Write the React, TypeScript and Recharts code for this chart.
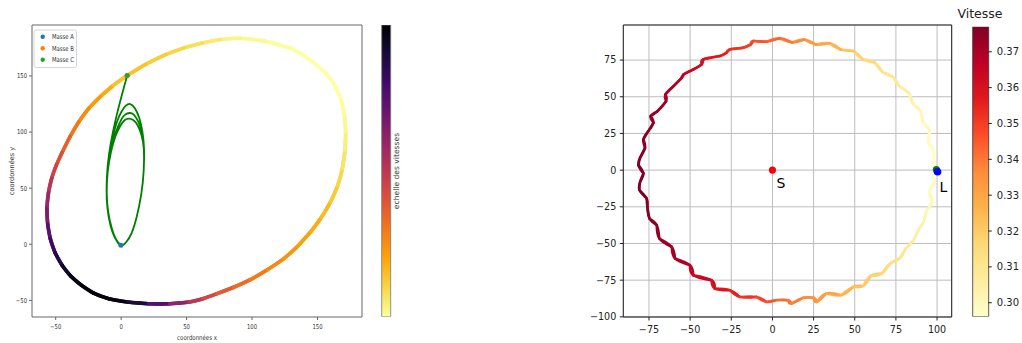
import React from 'react';
import {
  ScatterChart,
  Scatter,
  XAxis,
  YAxis,
  CartesianGrid,
  ReferenceLine,
  ComposedChart,
  Bar,
} from 'recharts';

const FONT = "'DejaVu Sans', sans-serif";
type P3 = [number, number, number];

// ---------------- colormaps ----------------
const INFERNO = ['#000004', '#160b39', '#420a68', '#6a176e', '#932667', '#bc3754', '#dd513a', '#f37819', '#fca50a', '#f6d746', '#fcffa4'];
const YLORRD = ['#ffffcc', '#ffeda0', '#fed976', '#feb24c', '#fd8d3c', '#fc4e2a', '#e31a1c', '#bd0026', '#800026'];

function hexRgb(h: string) {
  return [parseInt(h.slice(1, 3), 16), parseInt(h.slice(3, 5), 16), parseInt(h.slice(5, 7), 16)];
}
function cmap(stops: string[], t: number) {
  const c = Math.max(0, Math.min(1, t)) * (stops.length - 1);
  const i = Math.min(Math.floor(c), stops.length - 2);
  const f = c - i;
  const a = hexRgb(stops[i]);
  const b = hexRgb(stops[i + 1]);
  return `rgb(${Math.round(a[0] + (b[0] - a[0]) * f)},${Math.round(a[1] + (b[1] - a[1]) * f)},${Math.round(a[2] + (b[2] - a[2]) * f)})`;
}

// ---------------- left panel data ----------------
const leftXTicks = [-50, 0, 50, 100, 150];
const leftYTicks = [-50, 0, 50, 100, 150];
const leftXDomain = [-68.1, 184];
const leftYDomain = [-64.8, 195.4];

// Masse B trajectory: x, y, vitesse (relative, 0..1)
const masseBOrbit: P3[] = [
  [4.6, 150.3, 0.15], [-6, 141.5, 0.17], [-15.9, 131.6, 0.2], [-24.8, 121, 0.24], [-32.4, 109, 0.28],
  [-39, 96, 0.33], [-45, 82, 0.39], [-49.5, 70.5, 0.43], [-53, 59, 0.47], [-55.5, 46, 0.55],
  [-56.7, 32, 0.62], [-56.1, 18, 0.7], [-54.1, 4.9, 0.78], [-50.5, -7.4, 0.84], [-45.1, -18.7, 0.9],
  [-38.7, -28.1, 0.95], [-30.9, -36, 0.98], [-21, -43.5, 1], [-9.4, -48.5, 1], [5, -51.5, 0.94],
  [21, -53, 0.83], [37, -53, 0.68], [51.8, -51.5, 0.54], [62.5, -48.5, 0.46], [73.3, -44, 0.4],
  [86, -38.3, 0.35], [98.8, -31.5, 0.31], [112, -22.5, 0.28], [124.3, -12.8, 0.25], [135, -1.5, 0.22],
  [144.7, 11, 0.2], [153, 24, 0.17], [160, 37.8, 0.14], [165.5, 52.5, 0.11], [169, 67.6, 0.08],
  [171, 84, 0.05], [171.5, 100.3, 0.03], [170.5, 116, 0.01], [167.7, 130, 0], [162.5, 143, 0],
  [155, 153.9, 0], [143, 165.5, 0], [129.4, 174.7, 0], [110.5, 180.8, 0.01], [91, 183.6, 0.02],
  [76, 182.5, 0.04], [62, 179.3, 0.07], [48, 175, 0.09], [34, 169, 0.11], [19, 160.5, 0.13],
];
const masseBVitesseRange = [0, 1];

// Masse C trajectory
const masseCOrbit: [number, number][] = [
  [4.6, 150.3], [2.6, 142], [0.3, 132], [-2.8, 118], [-6.3, 100], [-9.3, 80], [-10.9, 60], [-11, 42],
  [-9.6, 26], [-6.8, 12], [-3.3, 3], [-0.2, -0.9],
  [3.8, 1.8], [8, 10], [12, 25], [15.4, 45], [17.2, 65], [17.5, 85], [16.3, 100], [14, 112], [10.6, 121],
  [7, 125], [3.6, 123.5], [0.4, 118.5], [-3.2, 109], [-6.6, 95], [-9.4, 78], [-10.9, 58], [-11, 40],
  [-9.6, 25], [-6.8, 11.5], [-3.3, 2.8], [-0.2, -0.9],
  [3.8, 1.8], [8, 10], [12, 25], [15.4, 45], [17.2, 65], [17.4, 85], [16, 99], [13.2, 109], [9.6, 115.5],
  [6.5, 117], [3, 115.5], [-0.4, 110], [-4, 100], [-7.4, 86], [-9.9, 69], [-11, 50], [-10.4, 33],
  [-8.2, 18], [-4.8, 6.5], [-0.2, -0.9],
  [3.8, 1.8], [8, 10], [12, 25], [15.4, 45], [17.2, 65], [17.3, 85], [15.6, 97], [12.6, 106], [9.2, 110.7],
  [6, 112], [2.6, 110.5], [-0.9, 105], [-4.4, 96], [-7.8, 82], [-10.3, 64], [-11, 46], [-9.9, 29],
  [-7.2, 14.5], [-3.8, 4], [-0.2, -0.9],
];

const masseAPos = [{ x: -0.2, y: -0.9 }];
const masseBPos = [{ x: 4.6, y: 150.3 }];
const masseCPos = [{ x: 4.6, y: 150.3 }];
const legendLabels = ['Masse A', 'Masse B', 'Masse C'];
const legendColors = ['#1f77b4', '#ff7f0e', '#2ca02c'];

// ---------------- right panel data ----------------
const rightXTicks = [-75, -50, -25, 0, 25, 50, 75, 100];
const rightYTicks = [-100, -75, -50, -25, 0, 25, 50, 75];
const rightXDomain = [-90.6, 108.9];
const rightYDomain = [-100.1, 98.9];

// Lune trajectory: x, y, vitesse
const luneOrbit: P3[] = [
  [99.5, -1, 0.2961], [97.6, 4.5, 0.2965], [98, 13.6, 0.2972], [94.8, 18.7, 0.298], [95.5, 27.3, 0.299],
  [91.4, 32.6, 0.3002], [89.9, 40.2, 0.3015], [85, 45.9, 0.3032], [82.8, 52.7, 0.305], [77.1, 57.2, 0.307],
  [73, 63.6, 0.3092], [66.7, 67.1, 0.3115], [62, 73.4, 0.314], [54.9, 75.5, 0.317], [49.3, 81.1, 0.32],
  [41.6, 82.1, 0.324], [34.7, 86.4, 0.328], [26.3, 85.6, 0.332], [19.3, 89, 0.3355], [12, 87, 0.339],
  [4.3, 89.8, 0.342], [-3.6, 87.5, 0.345], [-11.7, 88, 0.3475], [-13.1, 85.7, 0.3485], [-17.8, 83.4, 0.3505],
  [-25.9, 82.3, 0.3535], [-27.9, 80, 0.3545], [-32, 77.7, 0.3565], [-42, 75.5, 0.36], [-43, 72, 0.361],
  [-48, 68.6, 0.363], [-54, 65.2, 0.3655], [-55, 63, 0.366], [-60, 57.3, 0.368], [-65, 51.6, 0.37],
  [-64.6, 47, 0.3705], [-70, 40, 0.3725], [-74, 36.8, 0.3735], [-72.3, 32.3, 0.3738], [-75.4, 26.6, 0.3745],
  [-78.4, 21, 0.3752], [-77.4, 15.2, 0.3756], [-80.4, 8.4, 0.3762], [-81.4, 3.4, 0.3766], [-78.4, -2.3, 0.3768],
  [-80.4, -8, 0.377], [-80.8, -13.6, 0.3769], [-76.4, -19.3, 0.3766], [-76, -25, 0.376], [-74.7, -33, 0.3752],
  [-70.3, -37.5, 0.3742], [-68.7, -46.6, 0.373], [-61.2, -52.3, 0.371], [-59.2, -60.2, 0.3695], [-50.1, -64.8, 0.3665],
  [-48.1, -71.6, 0.365], [-37, -75, 0.361], [-35, -80.7, 0.3595], [-25.9, -81.8, 0.356], [-19.8, -86.4, 0.3535],
  [-9.7, -86.4, 0.3495], [-3.6, -89.8, 0.347], [2.4, -88.6, 0.344], [9.5, -88.6, 0.341], [11.5, -91, 0.34],
  [18.8, -87, 0.337], [25, -87, 0.3345], [27, -89.8, 0.3335], [32.7, -84, 0.3305], [41.8, -85.2, 0.327],
  [49.2, -79.5, 0.3235], [55, -79, 0.321], [59.7, -72, 0.3185], [66.5, -70.5, 0.316], [70.9, -64.1, 0.3135],
  [77.3, -60.2, 0.311], [80.8, -53.8, 0.309], [85.8, -47.7, 0.3068], [88.4, -41.4, 0.305], [91.9, -35.2, 0.3035],
  [93.4, -28.1, 0.302], [97, -22, 0.3005], [95.1, -14.8, 0.299], [98.4, -8, 0.2975], [97.6, -4, 0.2968],
];
const soleilPos = [{ x: 0, y: 0 }];
const terrePos = [{ x: 99.6, y: 0.3 }];
const lunePos = [{ x: 100.3, y: -1.1 }];
const vitesseTicks = [0.3, 0.31, 0.32, 0.33, 0.34, 0.35, 0.36, 0.37];
const vitesseDomain = [0.2961, 0.377];

// ---------------- helpers ----------------
const fmtMinus = (v: number) => (v < 0 ? '\u2212' + Math.abs(v) : String(v));

// each piece passes through three consecutive points (smooth), coloured by its first interval
function buildPieces(pts: P3[], colorOf: (v: number) => string) {
  const n = pts.length;
  return pts.map((p, i) => {
    const q = pts[(i + 1) % n];
    const r = pts[(i + 2) % n];
    return {
      key: i,
      color: colorOf((p[2] + q[2]) / 2),
      data: [{ x: p[0], y: p[1] }, { x: q[0], y: q[1] }, { x: r[0], y: r[1] }],
    };
  });
}

const piecesB = buildPieces(masseBOrbit, (v) =>
  cmap(INFERNO, 1 - (v - masseBVitesseRange[0]) / (masseBVitesseRange[1] - masseBVitesseRange[0]))
);
const piecesL = buildPieces(luneOrbit, (v) =>
  cmap(YLORRD, (v - vitesseDomain[0]) / (vitesseDomain[1] - vitesseDomain[0]))
);
const masseCData = masseCOrbit.map(([x, y]) => ({ x, y }));

const NoShape = () => <g />;

const LeftXTick = (props: any) => {
  const { x, y, payload } = props;
  return (
    <text transform={`translate(${x},${y + 5}) scale(0.78,1)`} textAnchor="middle" fontSize={6.8} fontFamily={FONT} fill="#333">
      {fmtMinus(payload.value)}
    </text>
  );
};
const LeftYTick = (props: any) => {
  const { x, y, payload } = props;
  return (
    <text transform={`translate(${x},${y + 2.4}) scale(0.78,1)`} textAnchor="end" fontSize={6.8} fontFamily={FONT} fill="#333">
      {fmtMinus(payload.value)}
    </text>
  );
};

const dot = (r: number, fill: string) => (props: any) => <circle cx={props.cx} cy={props.cy} r={r} fill={fill} />;
const labelledDot = (r: number, fill: string, text: string, dx: number, dy: number) => (props: any) => (
  <g>
    <circle cx={props.cx} cy={props.cy} r={r} fill={fill} />
    <text x={props.cx + dx} y={props.cy + dy} textAnchor="middle" fontSize={14} fontFamily={FONT} fill="#000">
      {text}
    </text>
  </g>
);

const colorbarData = [{ name: 'cb', range: [0, 1] }];
const colorbarDataV = [{ name: 'cb', range: [vitesseDomain[0], vitesseDomain[1]] }];

export default function App() {
  return (
    <div style={{ position: 'absolute', left: 0, top: 0, width: 1022, height: 343, background: '#fff', overflow: 'hidden' }}>
      {/* Left trajectory plot */}
      <div style={{ position: 'absolute', left: 0, top: 0 }}>
        <ScatterChart width={370} height={343} margin={{ top: 25, right: 8, bottom: 0, left: 0 }}>
          <XAxis
            type="number"
            dataKey="x"
            domain={leftXDomain}
            ticks={leftXTicks}
            allowDataOverflow
            height={26}
            tickSize={3}
            tickMargin={4}
            stroke="#666"
            tick={(p: any) => <LeftXTick {...p} />}
            label={{
              value: 'coordonnées x',
              position: 'insideBottom',
              offset: 2.5,
              fontSize: 6.8,
              fill: '#333',
              style: { fontSize: 6.8, fontFamily: FONT, fill: '#333', transform: 'scaleX(0.8)', transformBox: 'fill-box', transformOrigin: 'center' },
            }}
          />
          <YAxis
            type="number"
            dataKey="y"
            domain={leftYDomain}
            ticks={leftYTicks}
            allowDataOverflow
            width={32}
            tickSize={3}
            tickMargin={2}
            stroke="#666"
            tick={(p: any) => <LeftYTick {...p} />}
            label={{
              value: 'coordonnées y',
              angle: -90,
              position: 'insideLeft',
              offset: 11.5,
              fontSize: 6.6,
              fill: '#333',
              style: { textAnchor: 'middle', fontSize: 6.6, fontFamily: FONT, fill: '#333' },
            }}
          />
          <ReferenceLine y={leftYDomain[1]} stroke="#666" />
          <ReferenceLine x={leftXDomain[1]} stroke="#666" />
          {piecesB.map((s) => (
            <Scatter
              key={'b' + s.key}
              data={s.data}
              shape={NoShape}
              line={{ stroke: s.color, strokeWidth: 3.6, strokeLinecap: 'round', fill: 'none' }}
              lineJointType="natural"
              isAnimationActive={false}
            />
          ))}
          <Scatter
            data={masseCData}
            shape={NoShape}
            line={{ stroke: '#008000', strokeWidth: 1.8, fill: 'none' }}
            lineJointType="natural"
            isAnimationActive={false}
          />
          <Scatter data={masseBPos} shape={dot(2.5, legendColors[1])} isAnimationActive={false} />
          <Scatter data={masseAPos} shape={dot(2.5, legendColors[0])} isAnimationActive={false} />
          <Scatter data={masseCPos} shape={dot(2.5, legendColors[2])} isAnimationActive={false} />
        </ScatterChart>
      </div>

      {/* Left colorbar */}
      <div style={{ position: 'absolute', left: 370, top: 0 }}>
        <ComposedChart width={40} height={343} data={colorbarData} margin={{ top: 25, right: 19, bottom: 26.3, left: 11.7 }} barCategoryGap={0}>
          <defs>
            <linearGradient id="infernoGrad" x1="0" y1="0" x2="0" y2="1">
              {INFERNO.map((c, i) => (
                <stop key={i} offset={i / (INFERNO.length - 1)} stopColor={c} />
              ))}
            </linearGradient>
          </defs>
          <XAxis dataKey="name" type="category" hide />
          <YAxis type="number" domain={[0, 1]} allowDataOverflow hide />
          <Bar dataKey="range" fill="url(#infernoGrad)" stroke="#777" strokeWidth={0.8} isAnimationActive={false} />
        </ComposedChart>
      </div>

      {/* Right trajectory plot */}
      <div style={{ position: 'absolute', left: 580, top: 0 }}>
        <ScatterChart width={380} height={343} margin={{ top: 25, right: 8.3, bottom: 0, left: 0 }}>
          <CartesianGrid stroke="#bdbdbd" strokeWidth={1} />
          <XAxis
            type="number"
            dataKey="x"
            domain={rightXDomain}
            ticks={rightXTicks}
            allowDataOverflow
            height={26}
            tickSize={3.5}
            tickMargin={5.5}
            stroke="#222"
            tickFormatter={fmtMinus}
            tick={{ fontSize: 9.6, fill: '#222', fontFamily: FONT }}
          />
          <YAxis
            type="number"
            dataKey="y"
            domain={rightYDomain}
            ticks={rightYTicks}
            allowDataOverflow
            width={43.3}
            tickSize={3.5}
            tickMargin={3.5}
            stroke="#222"
            tickFormatter={fmtMinus}
            tick={{ fontSize: 9.6, fill: '#222', fontFamily: FONT }}
          />
          <ReferenceLine y={rightYDomain[1]} stroke="#222" />
          <ReferenceLine x={rightXDomain[1]} stroke="#222" />
          {piecesL.map((s) => (
            <Scatter
              key={'l' + s.key}
              data={s.data}
              shape={NoShape}
              line={{ stroke: s.color, strokeWidth: 2.5, strokeLinecap: 'round', fill: 'none' }}
              lineJointType="natural"
              isAnimationActive={false}
            />
          ))}
          <Scatter data={soleilPos} shape={labelledDot(3.6, '#ff0000', 'S', 8.5, 17.5)} isAnimationActive={false} />
          <Scatter data={terrePos} shape={dot(3.6, '#008000')} isAnimationActive={false} />
          <Scatter data={lunePos} shape={labelledDot(3.8, '#0000ff', 'L', 5.8, 20)} isAnimationActive={false} />
        </ScatterChart>
      </div>

      {/* Right colorbar */}
      <div style={{ position: 'absolute', left: 960, top: 0 }}>
        <ComposedChart width={62} height={343} data={colorbarDataV} margin={{ top: 26.7, right: 0, bottom: 26.3, left: 12.7 }} barCategoryGap={0}>
          <defs>
            <linearGradient id="ylorrdGrad" x1="0" y1="0" x2="0" y2="1">
              {YLORRD.map((c, i) => (
                <stop key={i} offset={1 - i / (YLORRD.length - 1)} stopColor={c} />
              )).reverse()}
            </linearGradient>
          </defs>
          <XAxis dataKey="name" type="category" hide />
          <YAxis
            type="number"
            orientation="right"
            domain={vitesseDomain}
            ticks={vitesseTicks}
            allowDataOverflow
            width={33.7}
            tickSize={3.5}
            tickMargin={5}
            axisLine={false}
            stroke="#222"
            tickFormatter={(v: number) => v.toFixed(2)}
            tick={{ fontSize: 10, fill: '#222', fontFamily: FONT }}
          />
          <Bar dataKey="range" fill="url(#ylorrdGrad)" stroke="#333" strokeWidth={0.8} isAnimationActive={false} />
        </ComposedChart>
      </div>

      {/* Overlay texts: legend, colorbar titles */}
      <svg width={1022} height={343} style={{ position: 'absolute', left: 0, top: 0, pointerEvents: 'none' }}>
        <rect x={34} y={30} width={42.5} height={37.5} rx={2} fill="#fff" stroke="#cccccc" strokeWidth={0.8} />
        {legendLabels.map((lab, i) => (
          <g key={lab}>
            <circle cx={42.7} cy={36.7 + i * 11.5} r={2.2} fill={legendColors[i]} />
            <text transform={`translate(52,${36.7 + i * 11.5 + 2.4}) scale(0.78,1)`} fontSize={6.8} fontFamily={FONT} fill="#333">
              {lab}
            </text>
          </g>
        ))}
        <text transform="translate(396,171) rotate(-90)" textAnchor="middle" dominantBaseline="central" fontSize={7.6} fontFamily={FONT} fill="#333">
          echelle des vitesses
        </text>
        <text x={980} y={18.3} textAnchor="middle" fontSize={12.5} fontFamily={FONT} fill="#222">
          Vitesse
        </text>
      </svg>
    </div>
  );
}
